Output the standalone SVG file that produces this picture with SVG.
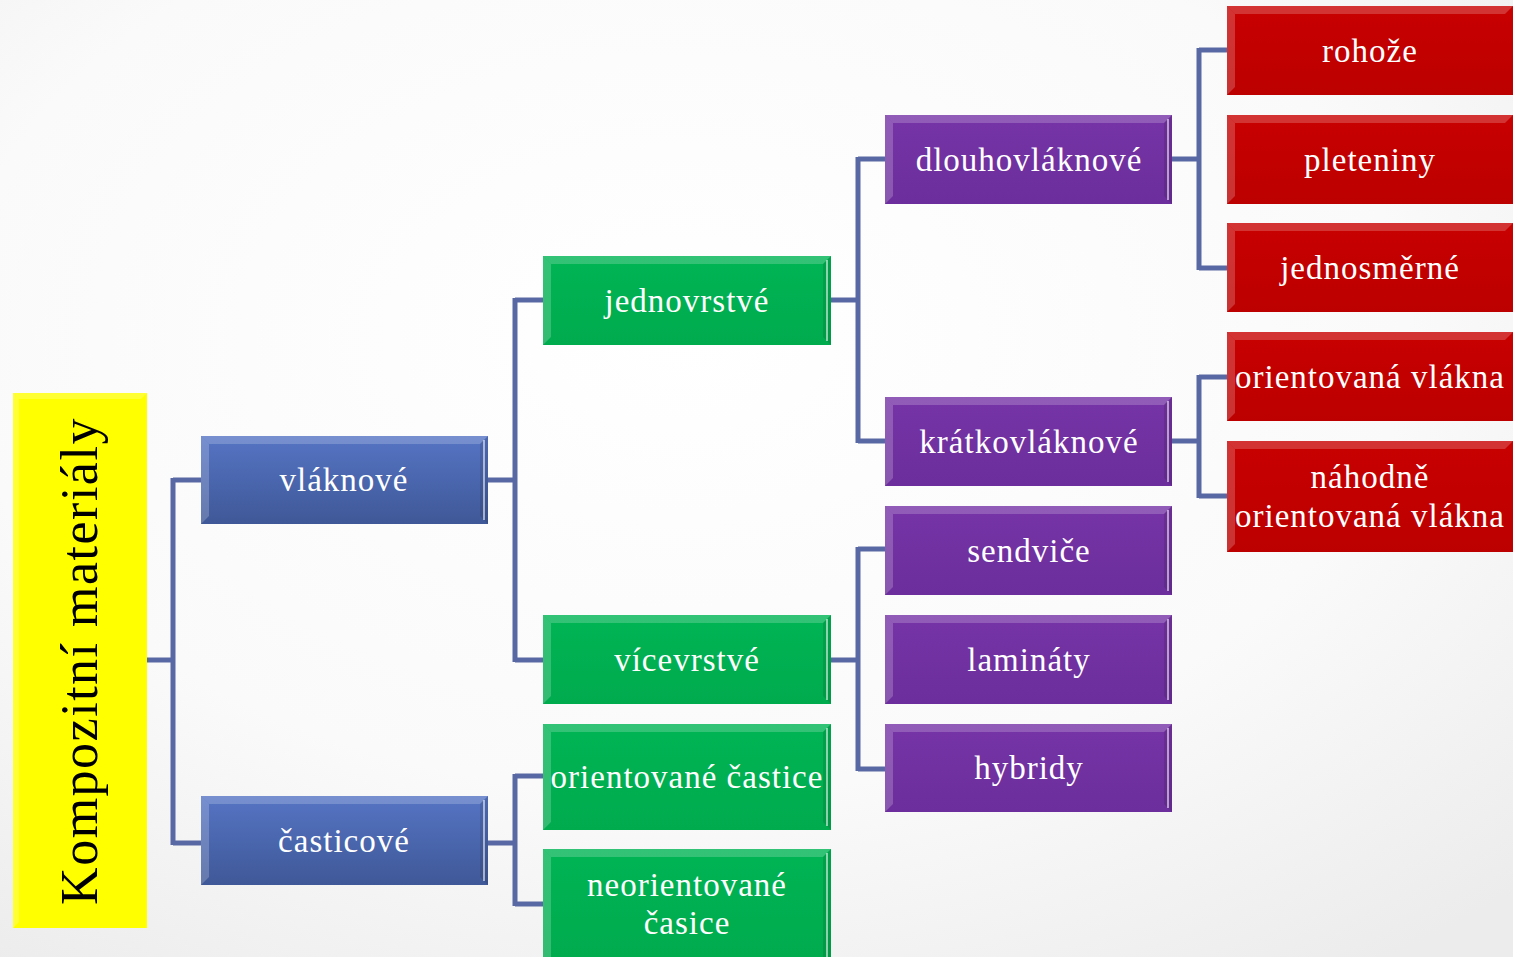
<svg xmlns="http://www.w3.org/2000/svg" width="1513" height="957" viewBox="0 0 1513 957">
<defs>
<radialGradient id="bg" cx="0.45" cy="0.35" r="0.8">
<stop offset="0" stop-color="#ffffff"/>
<stop offset="0.6" stop-color="#fafafa"/>
<stop offset="1" stop-color="#ececec"/>
</radialGradient>
<linearGradient id="gBlue" x1="0" y1="0" x2="0" y2="1"><stop offset="0" stop-color="#5574c4"/><stop offset="1" stop-color="#3f5897"/></linearGradient>
<linearGradient id="gGreen" x1="0" y1="0" x2="0" y2="1"><stop offset="0" stop-color="#00b454"/><stop offset="1" stop-color="#00ab4e"/></linearGradient>
<linearGradient id="gPurple" x1="0" y1="0" x2="0" y2="1"><stop offset="0" stop-color="#7634a6"/><stop offset="1" stop-color="#6c2e9c"/></linearGradient>
<linearGradient id="gRed" x1="0" y1="0" x2="0" y2="1"><stop offset="0" stop-color="#c80000"/><stop offset="1" stop-color="#bc0000"/></linearGradient>
</defs>
<style>
.t{font-family:"Liberation Serif","DejaVu Serif",serif;font-size:33px;letter-spacing:1px;fill:#ffffff;text-anchor:middle;}
.ty{font-family:"Liberation Serif","DejaVu Serif",serif;font-size:52px;letter-spacing:1.5px;fill:#000000;text-anchor:middle;}
.c{fill:none;stroke:#5868a4;stroke-width:5;}
.hl{fill:#ffffff;fill-opacity:0.2;}
.sh{fill:#000000;fill-opacity:0.1;}
.rl{fill:none;stroke:#ffffff;stroke-opacity:0.55;stroke-width:2;}
</style>
<rect x="0" y="0" width="1513" height="957" fill="url(#bg)"/>

<g id="connectors">
<path class="c" d="M147,660 H173 M173,478 V845 M173,480 H201 M173,843 H201"/>
<path class="c" d="M488,480 H515 M515,298 V662 M515,300 H543 M515,660 H543"/>
<path class="c" d="M488,843 H515 M515,774 V906 M515,776 H543 M515,904 H543"/>
<path class="c" d="M831,300 H858 M858,157 V443 M858,159 H885 M858,441 H885"/>
<path class="c" d="M831,660 H858 M858,547 V771 M858,549 H885 M858,769 H885"/>
<path class="c" d="M1172,159 H1199 M1199,48 V270 M1199,50 H1227 M1199,268 H1227"/>
<path class="c" d="M1172,441 H1199 M1199,375 V498 M1199,377 H1227 M1199,496 H1227"/>
</g>

<g id="n-root">
<rect x="13" y="393" width="134" height="535" fill="#ffff00"/>
<polygon class="hl" points="13,393 147,393 141,399 19,399"/>
<polygon class="hl" points="13,393 19,399 19,922 13,928"/>
<text class="ty" transform="translate(97,661) rotate(-90)">Kompozitní materiály</text>
</g>

<g id="n-vlaknove">
<rect x="201" y="436" width="287" height="88" fill="url(#gBlue)"/>
<polygon class="hl" points="201,436 488,436 480,444 209,444"/>
<polygon class="hl" points="201,436 209,444 209,516 201,524"/>
<polygon class="sh" points="488,436 488,524 480,516 480,444"/>
<line class="rl" x1="484" y1="440" x2="484" y2="520"/>
<text class="t" x="344" y="491">vláknové</text>
</g>

<g id="n-casticove">
<rect x="201" y="796" width="287" height="89" fill="url(#gBlue)"/>
<polygon class="hl" points="201,796 488,796 480,804 209,804"/>
<polygon class="hl" points="201,796 209,804 209,877 201,885"/>
<polygon class="sh" points="488,796 488,885 480,877 480,804"/>
<line class="rl" x1="484" y1="800" x2="484" y2="881"/>
<text class="t" x="344" y="852">časticové</text>
</g>

<g id="n-jednovrstve">
<rect x="543" y="256" width="288" height="89" fill="url(#gGreen)"/>
<polygon class="hl" points="543,256 831,256 823,264 551,264"/>
<polygon class="hl" points="543,256 551,264 551,337 543,345"/>
<polygon class="sh" points="831,256 831,345 823,337 823,264"/>
<line class="rl" x1="827" y1="260" x2="827" y2="341"/>
<text class="t" x="687" y="312">jednovrstvé</text>
</g>

<g id="n-vicevrstve">
<rect x="543" y="615" width="288" height="89" fill="url(#gGreen)"/>
<polygon class="hl" points="543,615 831,615 823,623 551,623"/>
<polygon class="hl" points="543,615 551,623 551,696 543,704"/>
<polygon class="sh" points="831,615 831,704 823,696 823,623"/>
<line class="rl" x1="827" y1="619" x2="827" y2="700"/>
<text class="t" x="687" y="671">vícevrstvé</text>
</g>

<g id="n-orientovane-castice">
<rect x="543" y="724" width="288" height="106" fill="url(#gGreen)"/>
<polygon class="hl" points="543,724 831,724 823,732 551,732"/>
<polygon class="hl" points="543,724 551,732 551,822 543,830"/>
<polygon class="sh" points="831,724 831,830 823,822 823,732"/>
<line class="rl" x1="827" y1="728" x2="827" y2="826"/>
<text class="t" x="687" y="788">orientované častice</text>
</g>

<g id="n-neorientovane-casice">
<rect x="543" y="849" width="288" height="108" fill="url(#gGreen)"/>
<polygon class="hl" points="543,849 831,849 823,857 551,857"/>
<polygon class="hl" points="543,849 551,857 551,957 543,957"/>
<polygon class="sh" points="831,849 831,957 823,957 823,857"/>
<line class="rl" x1="827" y1="853" x2="827" y2="957"/>
<text class="t" x="687" y="896">neorientované</text>
<text class="t" x="687" y="934">časice</text>
</g>

<g id="n-dlouhovlaknove">
<rect x="885" y="115" width="287" height="89" fill="url(#gPurple)"/>
<polygon class="hl" points="885,115 1172,115 1164,123 893,123"/>
<polygon class="hl" points="885,115 893,123 893,196 885,204"/>
<polygon class="sh" points="1172,115 1172,204 1164,196 1164,123"/>
<line class="rl" x1="1168" y1="119" x2="1168" y2="200"/>
<text class="t" x="1029" y="171">dlouhovláknové</text>
</g>

<g id="n-kratkovlaknove">
<rect x="885" y="397" width="287" height="89" fill="url(#gPurple)"/>
<polygon class="hl" points="885,397 1172,397 1164,405 893,405"/>
<polygon class="hl" points="885,397 893,405 893,478 885,486"/>
<polygon class="sh" points="1172,397 1172,486 1164,478 1164,405"/>
<line class="rl" x1="1168" y1="401" x2="1168" y2="482"/>
<text class="t" x="1029" y="453">krátkovláknové</text>
</g>

<g id="n-sendvice">
<rect x="885" y="506" width="287" height="89" fill="url(#gPurple)"/>
<polygon class="hl" points="885,506 1172,506 1164,514 893,514"/>
<polygon class="hl" points="885,506 893,514 893,587 885,595"/>
<polygon class="sh" points="1172,506 1172,595 1164,587 1164,514"/>
<line class="rl" x1="1168" y1="510" x2="1168" y2="591"/>
<text class="t" x="1029" y="562">sendviče</text>
</g>

<g id="n-laminaty">
<rect x="885" y="615" width="287" height="89" fill="url(#gPurple)"/>
<polygon class="hl" points="885,615 1172,615 1164,623 893,623"/>
<polygon class="hl" points="885,615 893,623 893,696 885,704"/>
<polygon class="sh" points="1172,615 1172,704 1164,696 1164,623"/>
<line class="rl" x1="1168" y1="619" x2="1168" y2="700"/>
<text class="t" x="1029" y="671">lamináty</text>
</g>

<g id="n-hybridy">
<rect x="885" y="724" width="287" height="88" fill="url(#gPurple)"/>
<polygon class="hl" points="885,724 1172,724 1164,732 893,732"/>
<polygon class="hl" points="885,724 893,732 893,804 885,812"/>
<polygon class="sh" points="1172,724 1172,812 1164,804 1164,732"/>
<line class="rl" x1="1168" y1="728" x2="1168" y2="808"/>
<text class="t" x="1029" y="779">hybridy</text>
</g>

<g id="n-rohoze">
<rect x="1227" y="6" width="286" height="89" fill="url(#gRed)"/>
<polygon class="hl" points="1227,6 1513,6 1505,14 1235,14"/>
<polygon class="hl" points="1227,6 1235,14 1235,87 1227,95"/>
<text class="t" x="1370" y="62">rohože</text>
</g>

<g id="n-pleteniny">
<rect x="1227" y="115" width="286" height="89" fill="url(#gRed)"/>
<polygon class="hl" points="1227,115 1513,115 1505,123 1235,123"/>
<polygon class="hl" points="1227,115 1235,123 1235,196 1227,204"/>
<text class="t" x="1370" y="171">pleteniny</text>
</g>

<g id="n-jednosmerne">
<rect x="1227" y="223" width="286" height="89" fill="url(#gRed)"/>
<polygon class="hl" points="1227,223 1513,223 1505,231 1235,231"/>
<polygon class="hl" points="1227,223 1235,231 1235,304 1227,312"/>
<text class="t" x="1370" y="279">jednosměrné</text>
</g>

<g id="n-orientovana-vlakna">
<rect x="1227" y="332" width="286" height="89" fill="url(#gRed)"/>
<polygon class="hl" points="1227,332 1513,332 1505,340 1235,340"/>
<polygon class="hl" points="1227,332 1235,340 1235,413 1227,421"/>
<text class="t" x="1370" y="388">orientovaná vlákna</text>
</g>

<g id="n-nahodne">
<rect x="1227" y="441" width="286" height="111" fill="url(#gRed)"/>
<polygon class="hl" points="1227,441 1513,441 1505,449 1235,449"/>
<polygon class="hl" points="1227,441 1235,449 1235,544 1227,552"/>
<text class="t" x="1370" y="488">náhodně</text>
<text class="t" x="1370" y="527">orientovaná vlákna</text>
</g>
</svg>
